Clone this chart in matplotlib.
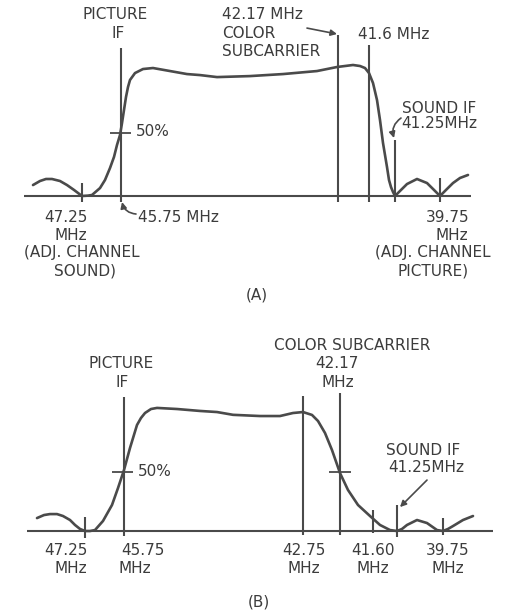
import numpy as np
import matplotlib.pyplot as plt

# schematic x position (left to right, falling frequency) and relative response
pos_a = [33, 40, 46, 52, 60, 67, 74, 82, 88, 92, 100, 105, 110, 114, 117, 120, 122, 124,
         126, 128, 130, 135, 143, 153, 170, 187, 200, 217, 250, 283, 317, 337, 353,
         360, 365, 369, 373, 377, 380, 383, 387, 389, 391, 393, 395, 400, 407, 417,
         427, 434, 440, 446, 453, 460, 468]
resp_a = [0.087, 0.119, 0.135, 0.135, 0.119, 0.087, 0.048, 0.0, 0.003, 0.008, 0.063,
          0.127, 0.222, 0.31, 0.405, 0.484, 0.579, 0.683, 0.786, 0.865, 0.921, 0.976,
          1.008, 1.016, 0.992, 0.968, 0.96, 0.944, 0.952, 0.968, 0.992, 1.024, 1.04,
          1.032, 1.016, 0.976, 0.897, 0.762, 0.603, 0.421, 0.23, 0.127, 0.071, 0.032,
          0.0, 0.04, 0.095, 0.135, 0.103, 0.048, 0.0, 0.048, 0.103, 0.143, 0.167]

pos_b = [37, 44, 50, 57, 63, 70, 75, 80, 85, 90, 95, 103, 112, 118, 124, 130, 137, 141,
         145, 151, 157, 177, 200, 217, 233, 260, 280, 293, 303, 312, 318, 325, 332,
         340, 348, 358, 370, 380, 390, 397, 402, 407, 417, 427, 437, 443, 448, 453,
         463, 473]
resp_b = [0.107, 0.132, 0.14, 0.14, 0.124, 0.091, 0.05, 0.017, 0.0, 0.0, 0.008, 0.083,
          0.215, 0.355, 0.504, 0.686, 0.876, 0.934, 0.975, 1.008, 1.017, 1.008, 0.992,
          0.983, 0.96, 0.95, 0.95, 0.975, 0.983, 0.959, 0.909, 0.81, 0.669, 0.479,
          0.339, 0.215, 0.124, 0.05, 0.008, 0.0, 0.017, 0.05, 0.091, 0.066, 0.008,
          0.0, 0.017, 0.041, 0.091, 0.124]

# marker lines: position, top, bottom
marks_a = [(82, 0.103, -0.048), (121, 1.175, -0.048), (338, 1.278, -0.048),
           (369, 1.198, -0.048), (395, 0.444, -0.048), (440, 0.143, -0.048)]
marks_b = [(85, 0.116, -0.058), (124, 1.107, -0.041), (303, 1.116, -0.033),
           (340, 1.14, -0.033), (373, 0.174, -0.017), (397, 0.215, -0.05),
           (443, 0.107, -0.033)]

freq_b = ['47.25', '45.75', '42.75', '41.60', '39.75']
freq_b_pos = [66, 143, 304, 373, 448]
mhz_b_pos = [71, 135, 304, 373, 448]

ink = '#4a4a4a'
txt = '#3c3c3c'
fs = 11

fig = plt.figure(figsize=(5.08, 6.12), dpi=100)
fig.patch.set_facecolor('white')

axa = fig.add_axes([0, 302/612, 1, 310/612])
axb = fig.add_axes([0, 0, 1, 302/612])
axa.set_xlim(0, 508)
axa.set_ylim(-0.905, 1.556)
axb.set_xlim(0, 508)
axb.set_ylim(-0.669, 1.826)
for ax in (axa, axb):
    ax.axis('off')

def label(ax, x, y, s, ha='center'):
    ax.text(x, y, s, ha=ha, va='center', fontsize=fs, color=txt)

# ---- (A)
axa.hlines(0, 24, 471, color=ink, lw=1.5)
axa.plot(pos_a, resp_a, color=ink, lw=1.9, solid_joinstyle='round', solid_capstyle='round')
for x, top, bot in marks_a:
    axa.vlines(x, bot, top, color=ink, lw=1.5)
axa.hlines(0.5, 110, 131, color=ink, lw=1.3)

label(axa, 115, 1.437, 'PICTURE')
label(axa, 118, 1.294, 'IF')
label(axa, 222, 1.444, '42.17 MHz', ha='left')
label(axa, 222, 1.294, 'COLOR', ha='left')
label(axa, 222, 1.151, 'SUBCARRIER', ha='left')
label(axa, 358, 1.286, '41.6 MHz', ha='left')
label(axa, 402, 0.698, 'SOUND IF', ha='left')
label(axa, 401, 0.579, '41.25MHz', ha='left')
label(axa, 136, 0.51, '50%', ha='left')
label(axa, 138, -0.167, '45.75 MHz', ha='left')
label(axa, 66, -0.167, '47.25')
label(axa, 71, -0.310, 'MHz')
label(axa, 82, -0.452, '(ADJ. CHANNEL')
label(axa, 85, -0.595, 'SOUND)')
label(axa, 448, -0.167, '39.75')
label(axa, 452, -0.310, 'MHz')
label(axa, 433, -0.452, '(ADJ. CHANNEL')
label(axa, 433, -0.595, 'PICTURE)')
label(axa, 257, -0.786, '(A)')

arrow = dict(arrowstyle='-|>', color=ink, lw=1.2, mutation_scale=9, shrinkA=0, shrinkB=0)
axa.annotate('', xy=(337, 1.286), xytext=(307, 1.333), arrowprops=arrow)
axa.annotate('', xy=(122, -0.048), xytext=(136, -0.143),
             arrowprops=dict(arrow, connectionstyle='arc3,rad=-0.35'))
axa.annotate('', xy=(394, 0.46), xytext=(401, 0.619),
             arrowprops=dict(arrow, connectionstyle='arc3,rad=0.35'))

# ---- (B)
axb.hlines(0, 27, 493, color=ink, lw=1.5)
axb.plot(pos_b, resp_b, color=ink, lw=1.9, solid_joinstyle='round', solid_capstyle='round')
for x, top, bot in marks_b:
    axb.vlines(x, bot, top, color=ink, lw=1.5)
axb.hlines(0.49, 112, 133, color=ink, lw=1.3)
axb.hlines(0.49, 329, 351, color=ink, lw=1.3)

label(axb, 121, 1.380, 'PICTURE')
label(axb, 122, 1.223, 'IF')
label(axb, 352, 1.529, 'COLOR SUBCARRIER')
label(axb, 337, 1.380, '42.17')
label(axb, 338, 1.223, 'MHz')
label(axb, 423, 0.669, 'SOUND IF')
label(axb, 426, 0.521, '41.25MHz')
label(axb, 138, 0.49, '50%', ha='left')
for x, s in zip(freq_b_pos, freq_b):
    label(axb, x, -0.157, s)
for x in mhz_b_pos:
    label(axb, x, -0.306, 'MHz')
label(axb, 259, -0.587, '(B)')

axb.annotate('', xy=(400, 0.198), xytext=(427, 0.421), arrowprops=arrow)

fig.savefig('out.png', dpi=100, facecolor='white')
